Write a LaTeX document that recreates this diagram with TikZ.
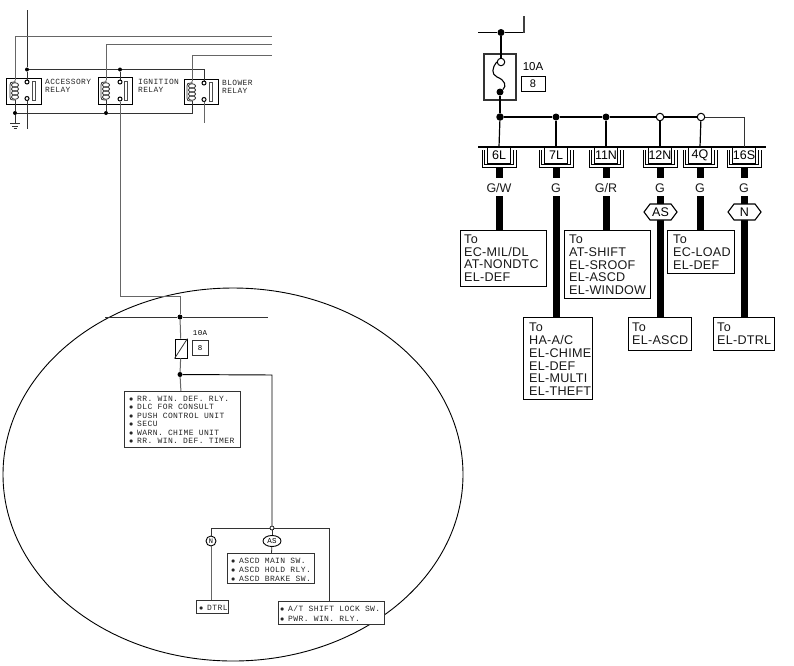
\documentclass[tikz,border=0pt]{standalone}
\usepackage{fontspec}
\setmainfont{Liberation Sans}
\newfontfamily\monof{Liberation Mono}[LetterSpace=5]
\newfontfamily\tof{Liberation Sans}[LetterSpace=2]
\usetikzlibrary{shapes.geometric,calc}
\tikzset{
  x=1pt,y=-1pt,
  thin wire/.style={line width=0.8pt,draw=black!80},
  grey wire/.style={line width=1pt,draw=black!60},
  med wire/.style={line width=0.95pt,draw=black},
  bus wire/.style={line width=1.3pt,draw=black},
  thick wire/.style={line width=7pt,draw=black},
  jdot/.style={circle,fill=black,inner sep=0,minimum size=#1},
  odot/.style={circle,draw=black,fill=white,line width=1pt,inner sep=0,minimum size=#1},
  rbox/.style={draw=black,line width=0.8pt,inner sep=0},
  arm/.style={draw=black!70,line width=0.7pt,minimum width=3.5pt,minimum height=19pt,inner sep=0},
  rlbl/.style={font=\monof\fontsize{7.9}{8}\selectfont,align=left,anchor=base west,inner sep=0,text=black!85},
  lbox/.style={draw=black!80,line width=0.9pt,fill=white,anchor=north west,inner sep=0},
  ltxt/.style={font=\monof\fontsize{8}{#1}\selectfont,align=left,anchor=base west,inner sep=0,text=black!85},
  tobox/.style={draw=black,line width=1.1pt,fill=white,anchor=north west,inner sep=0},
  totxt/.style={font=\tof\fontsize{12.6}{12.8}\selectfont,align=left,anchor=base west,inner sep=0,text=black!90},
  tag/.style={font=\fontsize{12.5}{13}\selectfont,inner sep=0,text=black!90},
  hexa/.style={line width=1.1pt,fill=white,draw=black},
}
\newcommand{\bl}{\makebox[8pt][l]{$\bullet$}}
\newcommand{\coilsym}[2]{% wire x, centre y
  \draw[thin wire] (#1,#2-11) -- (#1,#2-9) .. controls (#1-5,#2-9) and (#1-5,#2-8) .. (#1-5,#2-6)
     -- (#1-5,#2+6) .. controls (#1-5,#2+8) and (#1-5,#2+9) .. (#1,#2+9);
  \foreach \dy in {-6,-2,2,6}{ \draw[thin wire] (#1,#2+\dy) ellipse (3.6 and 2.3); }
}
\newcommand{\connector}[3]{% name, x, text
  \node[draw=black,line width=0.8pt,fill=white,minimum width=23pt,minimum height=16pt,inner sep=0,anchor=north,font=\fontsize{12.5}{13}\selectfont] (#1) at (#2,147) {#3};
  \draw[line width=0.9pt,black] (#2-14.5,150) -- (#2-14.5,164.5) -- (#2+14.5,164.5) -- (#2+14.5,150);
  \draw[line width=0.9pt,black] (#2-17,150) -- (#2-17,167) -- (#2+17,167) -- (#2+17,150);
}
\begin{document}
\begin{tikzpicture}
\useasboundingbox (0,0) rectangle (794,665);
% ---- left: relays ----
\node[rbox,minimum width=35pt,minimum height=26pt] (acc) at (23.5,91) {};
\node[rbox,minimum width=34pt,minimum height=27pt] (ign) at (115,91) {};
\node[rbox,minimum width=34pt,minimum height=25pt] (blo) at (201,92) {};
\coilsym{15}{91}\coilsym{106}{91}\coilsym{192}{92}
\node[rlbl] (accl) at (45,92) {ACCESSORY\\RELAY};
\node[rlbl] (ignl) at (138,92) {IGNITION\\RELAY};
\node[rlbl] (blol) at (222,93) {BLOWER\\RELAY};
\node[arm] (arm1) at (34,91) {};
\node[arm] (arm2) at (126,91) {};
\node[arm] (arm3) at (211,92) {};
\node[odot=4pt] (c1a) at (27,82) {};
\node[odot=4pt] (c1b) at (27,98.5) {};
\node[odot=4pt] (c2a) at (120,82) {};
\node[odot=4pt] (c2b) at (120,99) {};
\node[odot=4pt] (c3a) at (204,83) {};
\node[odot=4pt] (c3b) at (204,99.5) {};
\node[jdot=4pt] (j1) at (27,69.5) {};
\node[jdot=4pt] (j2) at (120,69.5) {};
\node[jdot=4pt] (g1) at (15,113) {};
\node[jdot=4pt] (g2) at (106,113) {};
\coordinate (top1) at (27,10);
\coordinate (bus1r) at (272,36);
\coordinate (bus2r) at (272,44.5);
\coordinate (bus3r) at (272,55);
\coordinate (gnd) at (15,123);
\coordinate (low1) at (27,129);
\coordinate (low3) at (204,123);
\draw[thin wire] (top1) -- (j1) -- (c1a);
\draw[thin wire] (j1) -- (j2) -- (204,69.5) -- (c3a);
\draw[thin wire] (j2) -- (c2a);
\draw[grey wire] (15,80) |- (bus1r);
\draw[grey wire] (106,80) |- (bus2r);
\draw[grey wire] (192,81) |- (bus3r);
\draw[thin wire] (15,100) -- (g1) -- (gnd);
\draw[thin wire] (106,100) -- (g2);
\draw[thin wire] (g1) -- (g2) -- (192,113) -- (192,101);
\draw[thin wire] (c1b) -- (low1);
\draw[grey wire] (c3b) -- (low3);
\draw[thin wire] (10,123) -- (20,123) (12,126) -- (18,126) (13.5,128.5) -- (16.5,128.5);
% ---- left: ellipse and lower tree ----
\node[ellipse,draw=black,line width=0.9pt,minimum width=460pt,minimum height=373pt,inner sep=0] (oval) at (233,474.5) {};
\node[jdot=5pt] (j3) at (180,317) {};
\node[jdot=5pt] (j4) at (180,374.5) {};
\node[draw=black,line width=0.9pt,fill=white,minimum width=12pt,minimum height=19pt,inner sep=0] (fuse) at (181,348.5) {};
\node[draw=black!80,line width=0.8pt,minimum width=16pt,minimum height=15pt,inner sep=0,font=\monof\fontsize{7.5}{8}\selectfont] (amp) at (200,348) {8};
\node[font=\monof\fontsize{7.5}{8}\selectfont,inner sep=0] (ampl) at (200,333) {10A};
\node[lbox,minimum width=116pt,minimum height=56pt] (b1) at (124,391) {};
\node[ltxt=8.44] (b1t) at (129,443.5) {\bl RR. WIN. DEF. RLY.\\\bl DLC FOR CONSULT\\\bl PUSH CONTROL UNIT\\\bl SECU\\\bl WARN. CHIME UNIT\\\bl RR. WIN. DEF. TIMER};
\node[circle,draw=black,fill=white,line width=0.7pt,inner sep=0,minimum size=4pt] (split) at (272,528) {};
\node[ellipse,draw=black,fill=white,line width=0.9pt,minimum width=18pt,minimum height=11pt,inner sep=0,font=\monof\fontsize{7.5}{8}\selectfont] (as) at (272,541) {AS};
\node[circle,draw=black,fill=white,line width=0.9pt,minimum size=10pt,inner sep=0,font=\monof\fontsize{7}{8}\selectfont] (n) at (211,541) {N};
\node[lbox,minimum width=87pt,minimum height=30pt] (b2) at (227,553) {};
\node[ltxt=9] (b2t) at (231,581) {\bl ASCD MAIN SW.\\\bl ASCD HOLD RLY.\\\bl ASCD BRAKE SW.};
\node[lbox,minimum width=32pt,minimum height=13pt] (b3) at (196,600) {};
\node[ltxt=9] (b3t) at (199,610) {\bl DTRL};
\node[lbox,minimum width=106pt,minimum height=23pt] (b4) at (278,601) {};
\node[ltxt=10] (b4t) at (280,621) {\bl A/T SHIFT LOCK SW.\\\bl PWR. WIN. RLY.};
\coordinate (hl) at (105,317);
\coordinate (hr) at (268,317);
\draw[thin wire] (hl) -- (j3) -- (hr);
\draw[grey wire] (c2b) -- (120,296) -- (180,296) -- (j3);
\draw[grey wire] (j3) -- (fuse);
\draw[grey wire] (fuse) -- (j4) -- (b1);
\draw[thin wire] (fuse.south west) -- (fuse.north east);
\draw[med wire] (j4) -- (272,375) -- (split);
\draw[thin wire] (split) -- (as);
\draw[thin wire] (as) -- (b2);
\draw[thin wire] (split) -- (211,528) -- (n);
\draw[grey wire] (n) -- (211,600);
\draw[thin wire] (split) -- (329,528) -- (329,601);
% ---- right: fuse and bus ----
\node[draw=black!80,line width=1.1pt,minimum width=32pt,minimum height=46pt,inner sep=0] (rf) at (500,77) {};
\node[draw=black,line width=0.9pt,minimum width=24pt,minimum height=15pt,inner sep=0,font=\fontsize{11}{12}\selectfont] (ramp) at (533,83.5) {8};
\node[font=\fontsize{11.5}{12}\selectfont,inner sep=0] (ramplbl) at (533,67) {10A};
\node[jdot=7pt] (rt) at (501,32.5) {};
\node[odot=7.5pt] (ft) at (501,62) {};
\node[jdot=7pt] (fb) at (500,92) {};
\node[jdot=7.5pt] (rj) at (500,117) {};
\node[jdot=7pt] (rj2) at (556,117) {};
\node[jdot=7pt] (rj3) at (606,117) {};
\node[odot=7.5pt] (ro1) at (660,117) {};
\node[odot=7.5pt] (ro2) at (701,117) {};
\coordinate (rtl) at (478,32.5);
\coordinate (rtr) at (524,32.5);
\coordinate (rtt) at (524,16);
\coordinate (railL) at (478,147);
\coordinate (railR) at (766,147);
\draw[line width=1.1pt] (rtl) -- (rt) -- (rtr);
\draw[line width=1.4pt,black!75] (rtr) -- (rtt);
\draw[line width=1.4pt] (rt) -- (ft);
\draw[line width=1.1pt] (ft.west) .. controls (492,68) and (491,74) .. (497,77) .. controls (505,80) and (507,86) .. (fb);
\draw[line width=1.4pt] (fb) -- (rj);
\connector{c6}{499}{6L}
\connector{c7}{556}{7L}
\connector{c11}{606}{11N}
\connector{c12}{660}{12N}
\connector{c4}{700}{4Q}
\connector{c16}{744}{16S}
\draw[line width=1.2pt] (railL) -- (railR);
\draw[bus wire] (rj) -- (rj2) -- (rj3) -- (ro1) -- (ro2);
\draw[line width=1pt,black!80] (ro2) -- (744,117) -- (c16.north);
\draw[line width=1.2pt] (rj) -- (c6.north);
\draw[line width=1.2pt] (rj2) -- (c7.north);
\draw[line width=1.2pt] (rj3) -- (c11.north);
\draw[line width=1.2pt] (ro1) -- (c12.north);
\draw[line width=1.2pt] (ro2) -- (c4.north);
% ---- right: destination boxes ----
\node[tobox,minimum width=86pt,minimum height=56pt] (t1) at (460,230) {};
\node[totxt] (t1t) at (464,281.7) {To\\EC-MIL/DL\\AT-NONDTC\\EL-DEF};
\node[tobox,minimum width=86pt,minimum height=68pt] (t3) at (564,230) {};
\node[totxt] (t3t) at (569,294.7) {To\\AT-SHIFT\\EL-SROOF\\EL-ASCD\\EL-WINDOW};
\node[tobox,minimum width=67pt,minimum height=43pt] (t5) at (667,230) {};
\node[totxt] (t5t) at (673,269.2) {To\\EC-LOAD\\EL-DEF};
\node[tobox,minimum width=69pt,minimum height=82pt] (t2) at (523,317) {};
\node[totxt] (t2t) at (529,395.7) {To\\HA-A/C\\EL-CHIME\\EL-DEF\\EL-MULTI\\EL-THEFT};
\node[tobox,minimum width=63pt,minimum height=33pt] (t4) at (628,317) {};
\node[totxt] (t4t) at (632,344.7) {To\\EL-ASCD};
\node[tobox,minimum width=61pt,minimum height=33pt] (t6) at (713,317) {};
\node[totxt] (t6t) at (717,344.7) {To\\EL-DTRL};
% ---- thick harness ----
\foreach \cn/\tg/\xx/\lb in {c6/t1/499/G\slash W,c7/t2/556/G,c11/t3/606/G\slash R,c12/t4/660/G,c4/t5/700/G,c16/t6/744/G}{
  \draw[thick wire] (\cn.south |- 0,167.5) -- (\cn.south |- 0,178);
  \draw[thick wire] (\cn.south |- 0,196) -- (\cn.south |- \tg.north);
  \node[tag] at (\xx,188) {\lb};
}
\draw[hexa] (644,212) -- (650,204) -- (671,204) -- (677,212) -- (671,220) -- (650,220) -- cycle;
\node[font=\fontsize{12.5}{13}\selectfont,inner sep=0] (hexas) at (660.5,212) {AS};
\draw[hexa] (728,212) -- (734,204) -- (755,204) -- (761,212) -- (755,220) -- (734,220) -- cycle;
\node[font=\fontsize{12.5}{13}\selectfont,inner sep=0] (hexn) at (744.5,212) {N};
\end{tikzpicture}
\end{document}
